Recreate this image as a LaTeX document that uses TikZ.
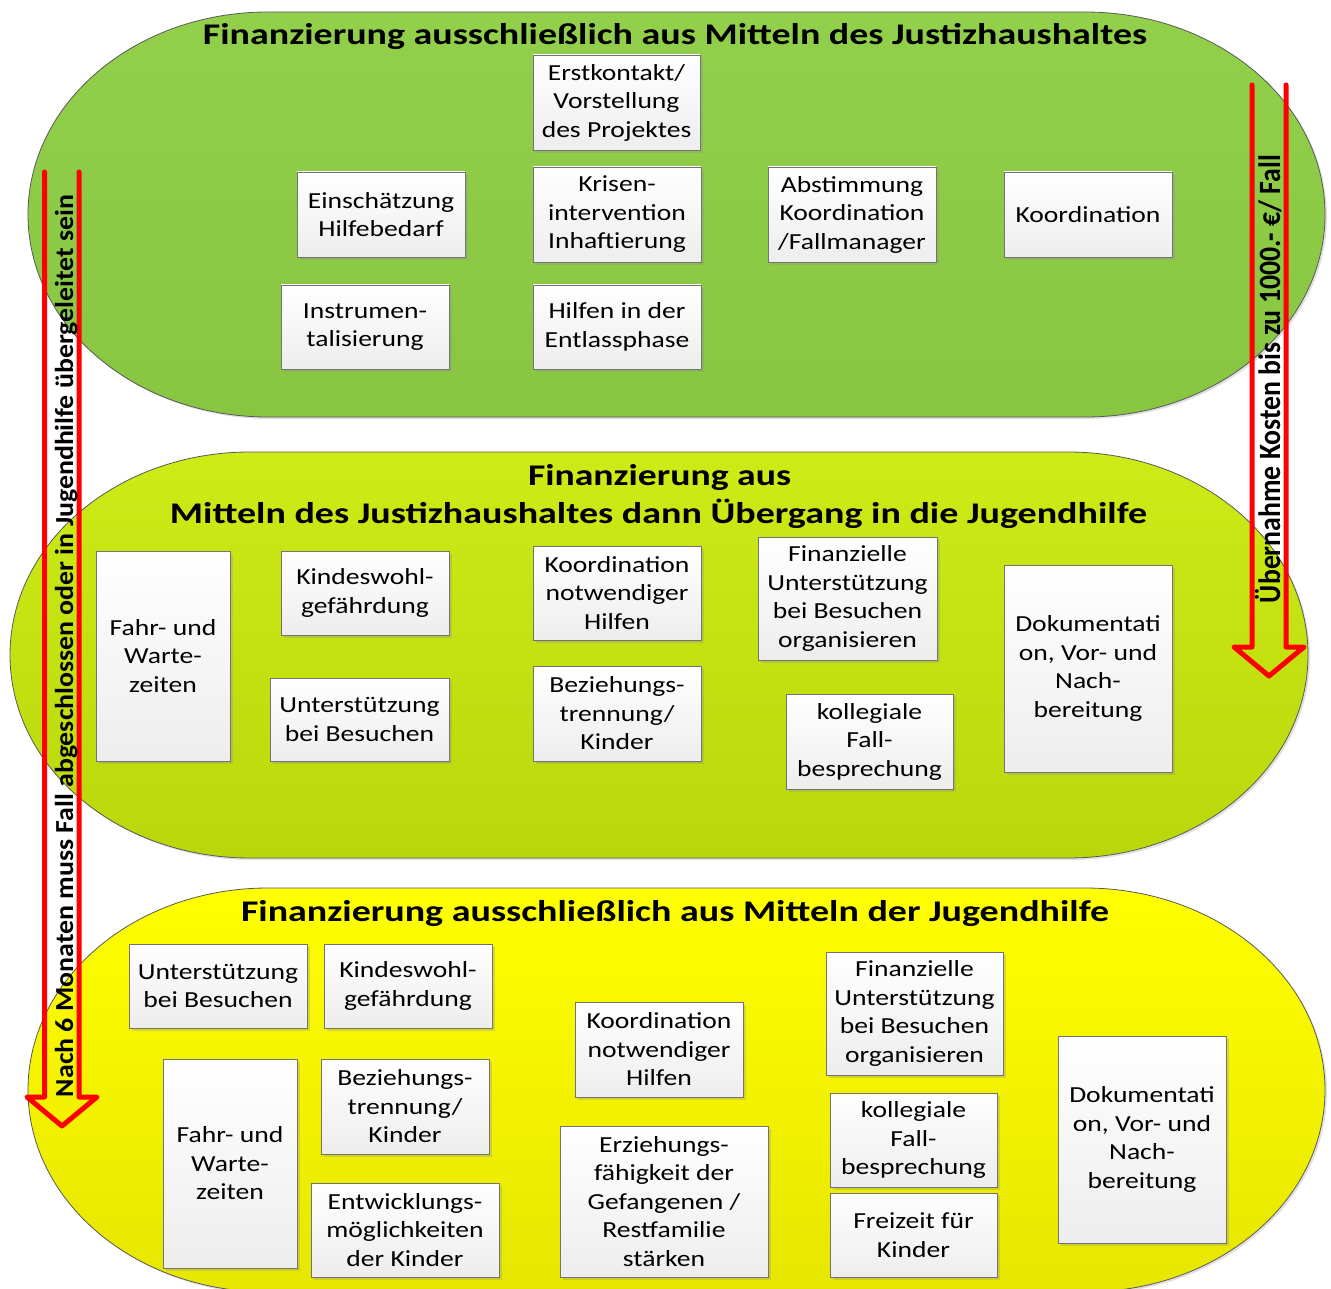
\documentclass[tikz,border=0pt]{standalone}
\usepackage{fontspec}
\usepackage{graphicx}
\setmainfont{Carlito}
\newfontfamily\boxfont[FakeStretch=1.2]{Carlito}
\usetikzlibrary{shadows}

\definecolor{justizTop}{HTML}{92D04C}
\definecolor{justizBottom}{HTML}{88C642}
\definecolor{uebergangTop}{HTML}{CDEB16}
\definecolor{uebergangBottom}{HTML}{BAD70C}
\definecolor{jugendTop}{HTML}{FFFF00}
\definecolor{jugendBottom}{HTML}{E6E600}

% band with elliptic ends: x0, y0, x1, y1, style
\newcommand{\band}[5]{%
    \draw[band,#5] ({#1+240},#2) -- ({#3-240},#2)
        arc[start angle=-90,end angle=90,x radius=240,y radius={(#4-#2)/2}]
        -- ({#1+240},#4)
        arc[start angle=90,end angle=270,x radius=240,y radius={(#4-#2)/2}]
        -- cycle;}

\begin{document}
\begin{tikzpicture}[x=1pt,y=-1pt,
        band/.style={draw=black!65, line width=0.8pt,
            drop shadow={shadow xshift=2pt, shadow yshift=-2pt, opacity=0.2, fill=black!60}},
        hilfe/.style={draw=black!55, line width=0.8pt, top color=white, bottom color=black!7,
            align=center, inner sep=0pt, font=\boxfont\fontsize{23}{28.5}\selectfont,
            drop shadow={shadow xshift=3pt, shadow yshift=-3pt, opacity=0.3, fill=black!45}},
        titel/.style={anchor=base, inner sep=0pt, font=\fontsize{30}{30}\selectfont\bfseries},
        pfeil/.style={draw=red, line width=5pt, line cap=round, line join=round},
        pfeiltext/.style={rotate=90, anchor=base, inner sep=0pt}]
    \useasboundingbox (0,0) rectangle (1331,1289);

    % --- Bands ---
    \band{28}{12}{1325}{417}{top color=justizTop, bottom color=justizBottom}
    \band{10}{452}{1308}{858}{top color=uebergangTop, bottom color=uebergangBottom}
    \band{28}{888}{1325}{1292}{top color=jugendTop, bottom color=jugendBottom}

    % --- Justizhaushalt ---
    \node[titel] (titelJustiz) at (675,45) {\resizebox{944pt}{\height}{Finanzierung ausschließlich aus Mitteln des Justizhaushaltes}};
    \node[hilfe, minimum width=167pt, minimum height=95pt] (erstkontakt) at (616.5,102.5) {Erstkontakt/\\Vorstellung\\des Projektes};
    \node[hilfe, minimum width=168pt, minimum height=85pt] (einschaetzung) at (381,214.5) {Einschätzung\\Hilfebedarf};
    \node[hilfe, minimum width=168pt, minimum height=95pt] (krisen) at (617,214.5) {Krisen-\\intervention\\Inhaftierung};
    \node[hilfe, minimum width=168pt, minimum height=95pt] (abstimmung) at (852,214.5) {Abstimmung\\Koordination\\/Fallmanager};
    \node[hilfe, minimum width=168pt, minimum height=85pt] (koordination) at (1088,214.5) {Koordination};
    \node[hilfe, minimum width=168pt, minimum height=84pt] (instrumente) at (365,327) {Instrumen-\\talisierung};
    \node[hilfe, minimum width=168pt, minimum height=84pt] (entlass) at (617,327) {Hilfen in der\\Entlassphase};

    % --- Uebergang ---
    \node[titel] (titelUebergang) at (659.5,485) {\resizebox{263pt}{\height}{Finanzierung aus}};
    \node[titel] (titelUebergangB) at (658.5,523) {\resizebox{977pt}{\height}{Mitteln des Justizhaushaltes dann Übergang in die Jugendhilfe}};
    \node[hilfe, minimum width=134pt, minimum height=210pt] (fahrM) at (163,656) {Fahr- und\\Warte-\\zeiten};
    \node[hilfe, minimum width=168pt, minimum height=84pt] (kindeswohlM) at (365,593) {Kindeswohl-\\gefährdung};
    \node[hilfe, minimum width=179pt, minimum height=83pt] (unterstuetzungM) at (359.5,719.5) {Unterstützung\\bei Besuchen};
    \node[hilfe, minimum width=168pt, minimum height=94pt] (koordinationM) at (617,593) {Koordination\\notwendiger\\Hilfen};
    \node[hilfe, minimum width=168pt, minimum height=95pt] (beziehungM) at (617,713.5) {Beziehungs-\\trennung/\\Kinder};
    \node[hilfe, minimum width=179pt, minimum height=123pt] (finanzM) at (847.5,598.5) {Finanzielle\\Unterstützung\\bei Besuchen\\organisieren};
    \node[hilfe, minimum width=167pt, minimum height=95pt] (kollegialM) at (869.5,741.5) {kollegiale\\Fall-\\besprechung};
    \node[hilfe, minimum width=168pt, minimum height=207pt] (dokuM) at (1088,668.5) {Dokumentati\\on, Vor- und\\Nach-\\bereitung};

    % --- Jugendhilfe ---
    \node[titel] (titelJugend) at (675,921) {\resizebox{868pt}{\height}{Finanzierung ausschließlich aus Mitteln der Jugendhilfe}};
    \node[hilfe, minimum width=178pt, minimum height=84pt] (unterstuetzungJ) at (218,986) {Unterstützung\\bei Besuchen};
    \node[hilfe, minimum width=168pt, minimum height=84pt] (kindeswohlJ) at (408,986) {Kindeswohl-\\gefährdung};
    \node[hilfe, minimum width=134pt, minimum height=209pt] (fahrJ) at (230,1163.5) {Fahr- und\\Warte-\\zeiten};
    \node[hilfe, minimum width=168pt, minimum height=95pt] (beziehungJ) at (405,1106.5) {Beziehungs-\\trennung/\\Kinder};
    \node[hilfe, minimum width=188pt, minimum height=94pt] (entwicklungJ) at (405,1230) {Entwicklungs-\\möglichkeiten\\der Kinder};
    \node[hilfe, minimum width=168pt, minimum height=95pt] (koordinationJ) at (659,1049.5) {Koordination\\notwendiger\\Hilfen};
    \node[hilfe, minimum width=208pt, minimum height=151pt] (erziehungJ) at (664,1201.5) {Erziehungs-\\fähigkeit der\\Gefangenen /\\Restfamilie\\stärken};
    \node[hilfe, minimum width=177pt, minimum height=123pt] (finanzJ) at (914.5,1013.5) {Finanzielle\\Unterstützung\\bei Besuchen\\organisieren};
    \node[hilfe, minimum width=167pt, minimum height=94pt] (kollegialJ) at (913.5,1140) {kollegiale\\Fall-\\besprechung};
    \node[hilfe, minimum width=167pt, minimum height=84pt] (freizeitJ) at (913.5,1235) {Freizeit für\\Kinder};
    \node[hilfe, minimum width=168pt, minimum height=207pt] (dokuJ) at (1142,1139.5) {Dokumentati\\on, Vor- und\\Nach-\\bereitung};

    % --- Arrows ---
    \draw[pfeil] (44.5,172) -- (44.5,1097) -- (27,1097) -- (62,1126) -- (97,1097) -- (79,1097) -- (79,172);
    \draw[pfeil] (1252,85) -- (1252,647) -- (1234,647) -- (1269,676) -- (1304,647) -- (1286,647) -- (1286,85);
    \node[pfeiltext, font=\fontsize{26}{26}\selectfont\bfseries] (sechsMonate) at (73,646)
        {\resizebox{902pt}{\height}{Nach 6 Monaten muss Fall abgeschlossen oder in Jugendhilfe übergeleitet sein}};
    \node[pfeiltext, font=\fontsize{31}{31}\selectfont\bfseries] (kosten) at (1280,379)
        {\resizebox{448pt}{\height}{Übernahme Kosten bis zu 1000.- €/ Fall}};
\end{tikzpicture}
\end{document}
